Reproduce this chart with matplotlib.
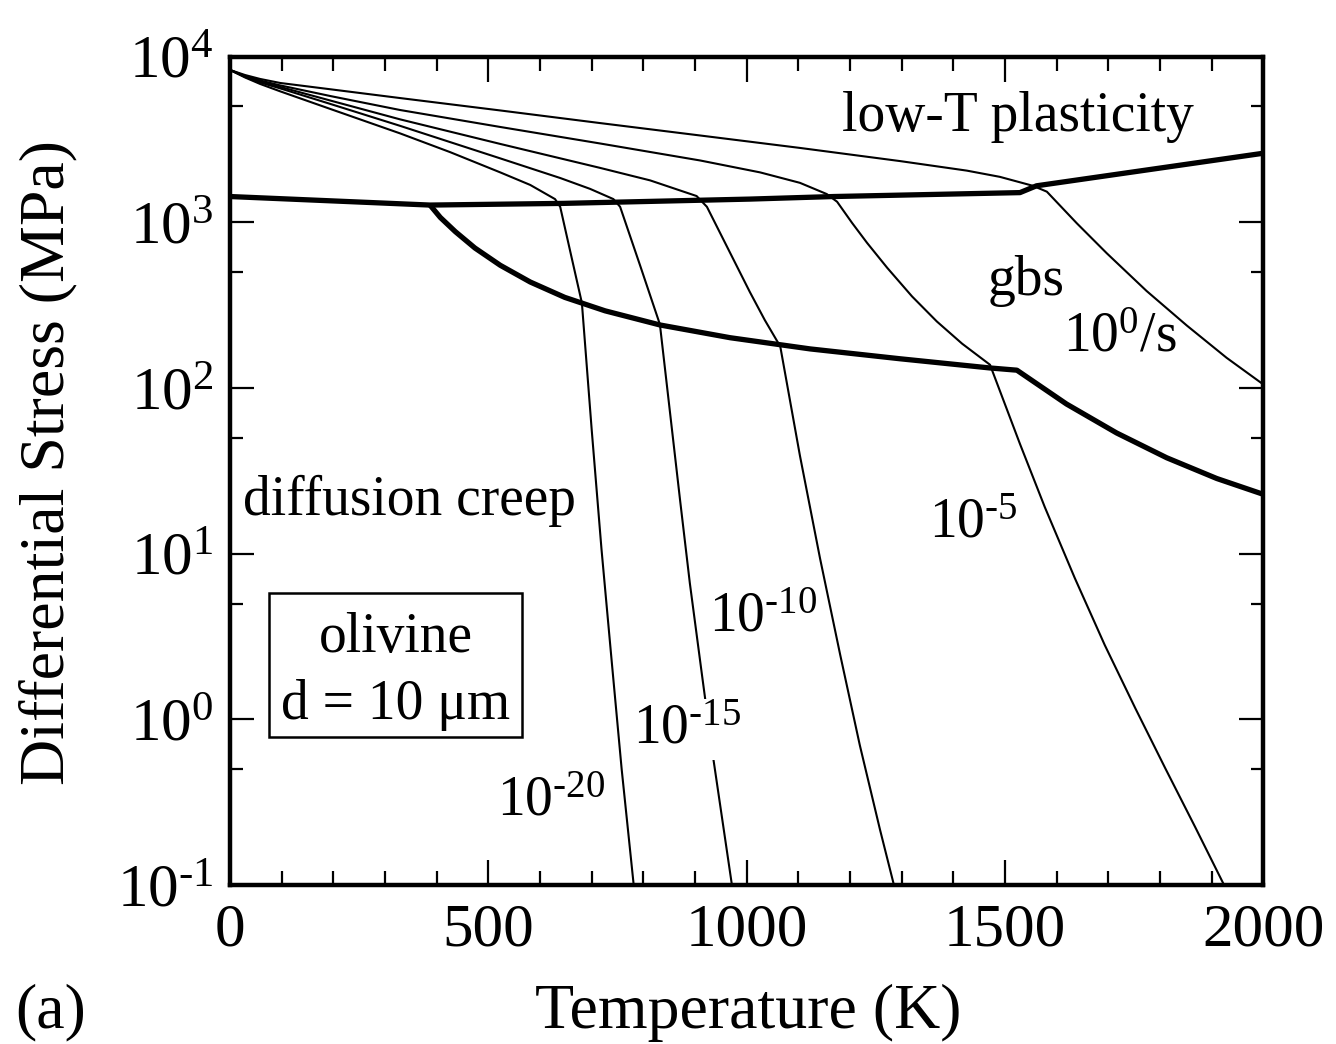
import numpy as np
import matplotlib
matplotlib.use("Agg")
import matplotlib.pyplot as plt
from matplotlib.patches import Rectangle

plt.rcParams["font.family"] = ["Liberation Serif", "DejaVu Serif"]
plt.rcParams["mathtext.fontset"] = "custom"
plt.rcParams["mathtext.rm"] = "Liberation Serif"
plt.rcParams["mathtext.it"] = "Liberation Serif:italic"
plt.rcParams["mathtext.bf"] = "Liberation Serif:bold"

# ---- strain-rate contours (temperature in K, stress in MPa) ----
T_rate0 = [0, 29, 58, 97, 194, 329, 523, 716, 910, 1103, 1297, 1426, 1490, 1554,
           1581, 1639, 1697, 1774, 1852, 1929, 2000]
S_rate0 = [8300, 7740, 7330, 6930, 6350, 5620, 4730, 3970, 3340, 2810, 2340, 2050, 1880, 1660,
           1530, 986, 650, 385, 238, 152, 105]

T_rate5 = [0, 29, 58, 97, 194, 329, 523, 716, 910, 1026, 1103, 1155, 1175, 1204, 1233, 1272,
           1320, 1368, 1417, 1471, 1529, 1577, 1635, 1693, 1752, 1810, 1868, 1924]
S_rate5 = [8300, 7640, 7180, 6700, 5780, 4760, 3760, 2990, 2360, 2000, 1730, 1480, 1330, 991, 751, 531,
           357, 252, 185, 138, 45.9, 19.1, 7.13, 2.81, 1.17, 0.508, 0.224, 0.100]

T_rate10 = [0, 29, 58, 97, 194, 329, 523, 716, 813, 903, 923, 968, 1006, 1035, 1065,
            1103, 1142, 1181, 1219, 1258, 1285]
S_rate10 = [8300, 7590, 7080, 6560, 5430, 4180, 2970, 2130, 1790, 1440, 1240, 653, 380, 257, 178,
            39.1, 9.35, 2.45, 0.697, 0.216, 0.100]

T_rate15 = [0, 29, 58, 97, 194, 329, 523, 639, 697, 742, 755, 794, 832, 871, 890, 913, 932, 971]
S_rate15 = [8300, 7540, 6980, 6430, 5180, 3820, 2430, 1850, 1590, 1380, 1240, 545, 242, 21.1, 6.62,
            1.90, 0.684, 0.102]

T_rate20 = [0, 29, 58, 97, 194, 329, 426, 523, 581, 629, 639, 660, 681, 700, 719, 739, 758, 781]
S_rate20 = [8300, 7480, 6840, 6170, 4830, 3440, 2650, 2000, 1680, 1380, 1240, 635, 326, 55.9, 10.6,
            2.19, 0.500, 0.102]

# ---- deformation-mechanism boundaries ----
T_upper = [0, 387, 645, 1006, 1168, 1529, 1561, 2000]
S_upper = [1430, 1270, 1300, 1380, 1430, 1510, 1660, 2610]

T_lower = [387, 407, 436, 474, 523, 581, 648, 726, 832, 968, 1123, 1297, 1471, 1523,
           1619, 1716, 1813, 1910, 2000]
S_lower = [1270, 1069, 878, 699, 550, 436, 352, 292, 240, 201, 172, 150, 132, 128,
           80.0, 53.5, 37.9, 28.4, 22.8]

x_ticks = [0, 500, 1000, 1500, 2000]
y_ticks = [0.1, 1, 10, 100, 1000, 10000]
y_tick_labels = [r"$10^{\text{-}1}$", r"$10^{0}$", r"$10^{1}$", r"$10^{2}$", r"$10^{3}$", r"$10^{4}$"]

fig = plt.figure(figsize=(13.36, 10.44), dpi=100)
ax = fig.add_axes([0.1722, 0.1523, 0.7734, 0.7935])

thin = dict(color="black", lw=1.5, solid_joinstyle="round")
thick = dict(color="black", lw=3.8, solid_joinstyle="round", solid_capstyle="butt")

for T, S in [(T_rate0, S_rate0), (T_rate5, S_rate5), (T_rate10, S_rate10),
             (T_rate15, S_rate15), (T_rate20, S_rate20)]:
    ax.plot(T, S, **thin)
ax.plot(T_upper, S_upper, **thick)
ax.plot(T_lower, S_lower, **thick)

ax.set_yscale("log")
ax.set_xlim(0, 2000)
ax.set_ylim(0.1, 10000)

ax.set_xticks(x_ticks)
ax.set_xticklabels([str(v) for v in x_ticks])
ax.set_xticks(np.arange(0, 2001, 100), minor=True)
ax.set_yticks(y_ticks)
ax.set_yticklabels(y_tick_labels)
ax.set_yticks([0.5, 5, 50, 500, 5000], minor=True)
ax.yaxis.set_minor_formatter(matplotlib.ticker.NullFormatter())

ax.tick_params(which="both", direction="in", top=True, right=True, width=1.6,
               labelsize=44, colors="black")
ax.tick_params(axis="x", which="major", length=18, pad=13)
ax.tick_params(axis="x", which="minor", length=10)
ax.tick_params(axis="y", which="major", length=17, pad=12)
ax.tick_params(axis="y", which="minor", length=9)
for sp in ax.spines.values():
    sp.set_linewidth(3.2)

ax.set_xlabel("Temperature (K)", fontsize=46)
ax.xaxis.label.set_va("baseline")
ax.xaxis.set_label_coords(0.501, -0.1726)
ax.set_ylabel("Differential Stress (MPa)", fontsize=46)
ax.yaxis.set_label_coords(-0.148, 0.51)

fs = 40
ax.text(1525, 3570, "low-T plasticity", fontsize=fs, ha="center", va="baseline")
ax.text(1540, 364, "gbs", fontsize=fs, ha="center", va="baseline")
ax.text(1723, 166, r"$10^{0}$/s", fontsize=fs, ha="center", va="baseline")
ax.text(1439, 12.6, r"$10^{\text{-}5}$", fontsize=fs, ha="center", va="baseline")
ax.text(1032, 3.41, r"$10^{\text{-}10}$", fontsize=fs, ha="center", va="baseline")
ax.text(885, 0.716, r"$10^{\text{-}15}$", fontsize=fs, ha="center", va="baseline",
        bbox=dict(boxstyle="square,pad=0.08", fc="white", ec="none"))
ax.text(621, 0.264, r"$10^{\text{-}20}$", fontsize=fs, ha="center", va="baseline")
ax.text(348, 17.1, "diffusion creep", fontsize=fs, ha="center", va="baseline")

ax.add_patch(Rectangle((0.038, 0.179), 0.2443, 0.1738, transform=ax.transAxes,
                       fill=False, ec="black", lw=1.8))
ax.text(320, 2.56, "olivine", fontsize=fs, ha="center", va="baseline")
ax.text(320, 1.01, "d = 10 μm", fontsize=fs, ha="center", va="baseline")

fig.text(15 / 1336, 0.016, "(a)", fontsize=46, ha="left", va="baseline")

fig.savefig("out.png", dpi=100, facecolor="white")
